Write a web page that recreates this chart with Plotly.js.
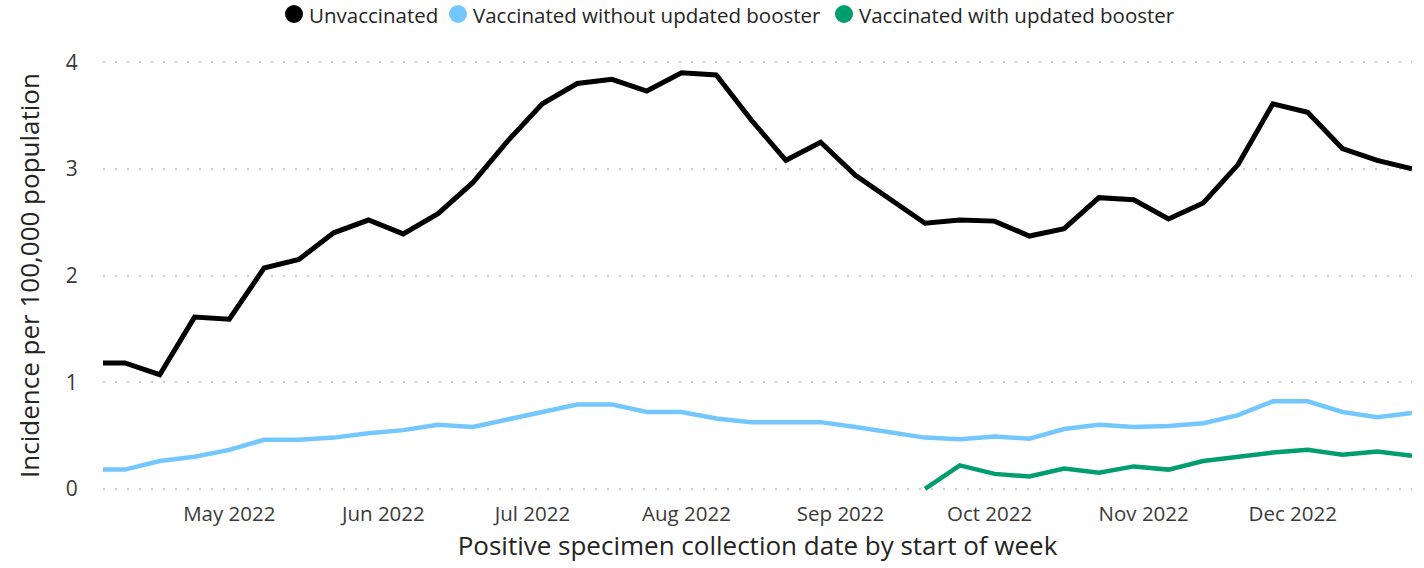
<!DOCTYPE html>
<html>
<head>
<meta charset="utf-8">
<script src="https://cdn.plot.ly/plotly-3.0.1.min.js"></script>
<style>html,body{margin:0;padding:0;background:#fff;}#chart{width:1424px;height:568px;}</style>
</head>
<body>
<div id="chart"></div>
<script>
const weeks = ["2022-04-03","2022-04-10","2022-04-17","2022-04-24","2022-05-01","2022-05-08","2022-05-15","2022-05-22","2022-05-29","2022-06-05","2022-06-12","2022-06-19","2022-06-26","2022-07-03","2022-07-10","2022-07-17","2022-07-24","2022-07-31","2022-08-07","2022-08-14","2022-08-21","2022-08-28","2022-09-04","2022-09-11","2022-09-18","2022-09-25","2022-10-02","2022-10-09","2022-10-16","2022-10-23","2022-10-30","2022-11-06","2022-11-13","2022-11-20","2022-11-27","2022-12-04","2022-12-11","2022-12-18","2022-12-25"];
const unvaccinated = [1.18,1.18,1.07,1.61,1.59,2.07,2.15,2.40,2.52,2.39,2.58,2.87,3.26,3.61,3.80,3.84,3.73,3.90,3.88,3.46,3.08,3.25,2.94,2.72,2.49,2.52,2.51,2.37,2.44,2.73,2.71,2.53,2.68,3.04,3.61,3.53,3.19,3.08,3.00];
const vaxNoBooster = [0.18,0.18,0.26,0.30,0.365,0.46,0.46,0.48,0.52,0.55,0.60,0.58,0.65,0.72,0.79,0.79,0.72,0.72,0.66,0.625,0.625,0.625,0.58,0.53,0.48,0.465,0.49,0.47,0.56,0.60,0.58,0.59,0.615,0.69,0.82,0.82,0.72,0.67,0.71];
const vaxBooster = [null,null,null,null,null,null,null,null,null,null,null,null,null,null,null,null,null,null,null,null,null,null,null,null,0,0.22,0.14,0.115,0.19,0.15,0.21,0.18,0.26,0.30,0.34,0.365,0.32,0.35,0.31];
const seriesNames = ["Unvaccinated","Vaccinated without updated booster","Vaccinated with updated booster"];
const seriesColors = ["#000000","#74C7FD","#009E6F"];
const yTicks = [0,1,2,3,4];

const W = 1424, H = 568;
const M = {l: 103, r: 12, t: 59, b: 76};
const pw = W - M.l - M.r, ph = H - M.t - M.b;
const px2paper = (px) => (px - M.l) / pw;
const py2paper = (py) => (H - M.b - py) / ph;

const seriesData = [unvaccinated, vaxNoBooster, vaxBooster];
const traces = seriesData.map((vals, i) => ({
  type: "scatter", mode: "lines", x: weeks, y: vals, name: seriesNames[i],
  line: {color: seriesColors[i], width: i === 0 ? 5 : 4.5},
  showlegend: false, hoverinfo: "skip"
}));

// Manual legend (circle markers + labels) placed at the top
const legendCircleX = [294, 458, 844];
const legendY = 14;
const shapes = seriesNames.map((n, i) => ({
  type: "circle", xref: "paper", yref: "paper",
  xsizemode: "pixel", ysizemode: "pixel",
  xanchor: px2paper(legendCircleX[i]), yanchor: py2paper(legendY),
  x0: -9, x1: 9, y0: -9, y1: 9,
  fillcolor: seriesColors[i], line: {width: 0}
}));
const annotations = seriesNames.map((n, i) => ({
  text: n, showarrow: false, xref: "paper", yref: "paper",
  x: px2paper(legendCircleX[i] + 13), xanchor: "left",
  y: py2paper(legendY + 1), yanchor: "middle",
  font: {size: 20.5, color: "#252423"}
}));

const layout = {
  width: W, height: H,
  margin: M,
  paper_bgcolor: "#fff", plot_bgcolor: "#fff",
  font: {family: "Open Sans, sans-serif", color: "#252423"},
  showlegend: false,
  shapes: shapes,
  annotations: annotations,
  xaxis: {
    type: "date",
    range: ["2022-04-05 14:00", "2022-12-25"],
    dtick: "M1", tick0: "2022-05-01", tickformat: "%b %Y",
    showgrid: false, zeroline: false, showline: false,
    ticks: "outside", ticklen: 3, tickcolor: "rgba(0,0,0,0)",
    tickfont: {size: 20.5, color: "#3b3a39"},
    title: {text: "Positive specimen collection date by start of week", font: {size: 26, color: "#252423"}, standoff: 11}
  },
  yaxis: {
    range: [-0.03, 4.03],
    tickvals: yTicks, ticktext: yTicks.map(String),
    showgrid: true, gridcolor: "#CDCBC9", gridwidth: 2, griddash: "2px,10px",
    zeroline: false, showline: false,
    ticks: "outside", ticklen: 20, tickcolor: "rgba(0,0,0,0)",
    tickfont: {size: 21, color: "#3b3a39"},
    title: {text: "Incidence per 100,000 population", font: {size: 26, color: "#252423"}, standoff: 18}
  }
};

Plotly.newPlot("chart", traces, layout, {displayModeBar: false, staticPlot: true});
</script>
</body>
</html>
